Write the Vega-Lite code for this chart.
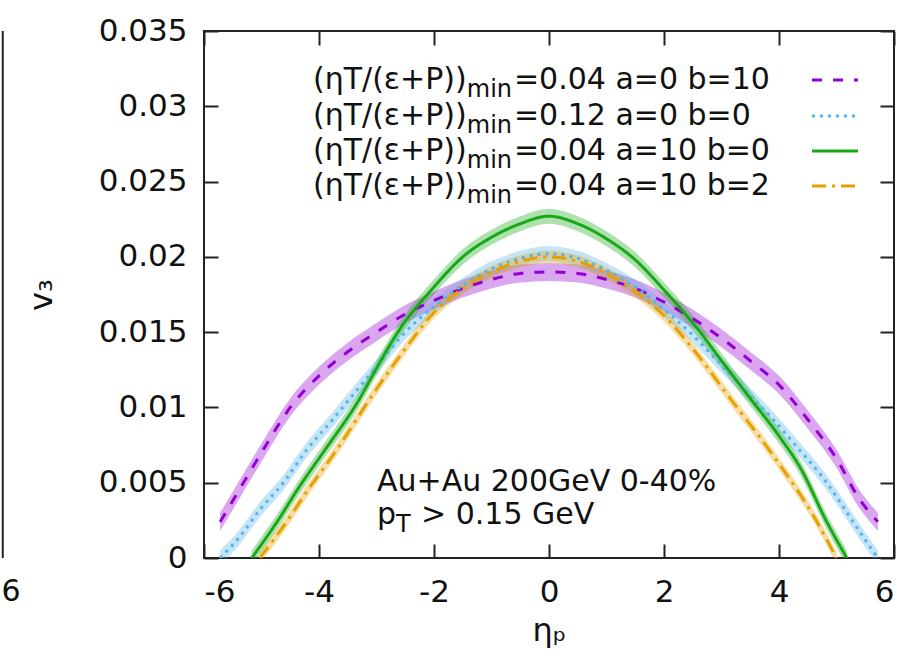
{
  "$schema": "https://vega.github.io/schema/vega-lite/v6.json",
  "width": 690,
  "height": 527,
  "autosize": {"type": "none"},
  "padding": {"left": 204, "top": 31, "right": 6, "bottom": 102},
  "background": "white",
  "config": {
    "view": {"stroke": "#222222", "strokeWidth": 2},
    "font": "DejaVu Sans",
    "axis": {
      "domain": false,
      "grid": false,
      "tickSize": -14,
      "tickWidth": 2,
      "tickColor": "#222222",
      "labelFont": "DejaVu Sans",
      "labelFontSize": 31,
      "labelColor": "#111111",
      "titleFont": "DejaVu Sans",
      "titleFontSize": 32,
      "titleFontWeight": "normal",
      "titleColor": "#111111"
    }
  },
  "datasets": {
    "curves": [
      {"s": "a", "eta": -5.72, "v": 0.0024},
      {"s": "a", "eta": -5.5, "v": 0.0038},
      {"s": "a", "eta": -5.0, "v": 0.0070},
      {"s": "a", "eta": -4.5, "v": 0.0100},
      {"s": "a", "eta": -4.0, "v": 0.0121},
      {"s": "a", "eta": -3.5, "v": 0.0137},
      {"s": "a", "eta": -3.0, "v": 0.0150},
      {"s": "a", "eta": -2.5, "v": 0.0162},
      {"s": "a", "eta": -2.0, "v": 0.0171},
      {"s": "a", "eta": -1.5, "v": 0.0179},
      {"s": "a", "eta": -1.0, "v": 0.0185},
      {"s": "a", "eta": -0.5, "v": 0.0189},
      {"s": "a", "eta": 0.0, "v": 0.0190},
      {"s": "a", "eta": 0.5, "v": 0.0189},
      {"s": "a", "eta": 1.0, "v": 0.0185},
      {"s": "a", "eta": 1.5, "v": 0.0179},
      {"s": "a", "eta": 2.0, "v": 0.0170},
      {"s": "a", "eta": 2.5, "v": 0.0159},
      {"s": "a", "eta": 3.0, "v": 0.0146},
      {"s": "a", "eta": 3.5, "v": 0.0131},
      {"s": "a", "eta": 4.0, "v": 0.0115},
      {"s": "a", "eta": 4.5, "v": 0.0092},
      {"s": "a", "eta": 5.0, "v": 0.0066},
      {"s": "a", "eta": 5.4, "v": 0.0039},
      {"s": "a", "eta": 5.72, "v": 0.0024},
      {"s": "b", "eta": -5.72, "v": 0.0},
      {"s": "b", "eta": -5.38, "v": 0.0014},
      {"s": "b", "eta": -5.03, "v": 0.0032},
      {"s": "b", "eta": -4.62, "v": 0.0050},
      {"s": "b", "eta": -4.21, "v": 0.0072},
      {"s": "b", "eta": -3.76, "v": 0.0092},
      {"s": "b", "eta": -3.46, "v": 0.0106},
      {"s": "b", "eta": -3.0, "v": 0.0127},
      {"s": "b", "eta": -2.5, "v": 0.0150},
      {"s": "b", "eta": -2.0, "v": 0.0167},
      {"s": "b", "eta": -1.5, "v": 0.0181},
      {"s": "b", "eta": -1.0, "v": 0.0192},
      {"s": "b", "eta": -0.5, "v": 0.0199},
      {"s": "b", "eta": 0.0, "v": 0.0202},
      {"s": "b", "eta": 0.5, "v": 0.0199},
      {"s": "b", "eta": 1.0, "v": 0.0191},
      {"s": "b", "eta": 1.5, "v": 0.0180},
      {"s": "b", "eta": 2.0, "v": 0.0165},
      {"s": "b", "eta": 2.5, "v": 0.0148},
      {"s": "b", "eta": 3.0, "v": 0.0128},
      {"s": "b", "eta": 3.55, "v": 0.0106},
      {"s": "b", "eta": 3.9, "v": 0.0092},
      {"s": "b", "eta": 4.24, "v": 0.0077},
      {"s": "b", "eta": 4.83, "v": 0.0050},
      {"s": "b", "eta": 5.29, "v": 0.0024},
      {"s": "b", "eta": 5.5, "v": 0.0012},
      {"s": "b", "eta": 5.72, "v": 0.0},
      {"s": "c", "eta": -5.17, "v": 0.0},
      {"s": "c", "eta": -4.73, "v": 0.0024},
      {"s": "c", "eta": -4.33, "v": 0.0048},
      {"s": "c", "eta": -3.93, "v": 0.0070},
      {"s": "c", "eta": -3.29, "v": 0.0106},
      {"s": "c", "eta": -3.0, "v": 0.0126},
      {"s": "c", "eta": -2.63, "v": 0.0150},
      {"s": "c", "eta": -2.0, "v": 0.0180},
      {"s": "c", "eta": -1.5, "v": 0.0200},
      {"s": "c", "eta": -1.0, "v": 0.0213},
      {"s": "c", "eta": -0.5, "v": 0.0222},
      {"s": "c", "eta": 0.0, "v": 0.0227},
      {"s": "c", "eta": 0.5, "v": 0.0222},
      {"s": "c", "eta": 1.0, "v": 0.0212},
      {"s": "c", "eta": 1.5, "v": 0.0198},
      {"s": "c", "eta": 2.0, "v": 0.0178},
      {"s": "c", "eta": 2.19, "v": 0.0170},
      {"s": "c", "eta": 2.63, "v": 0.0150},
      {"s": "c", "eta": 3.0, "v": 0.0131},
      {"s": "c", "eta": 3.5, "v": 0.0106},
      {"s": "c", "eta": 4.0, "v": 0.0081},
      {"s": "c", "eta": 4.37, "v": 0.0060},
      {"s": "c", "eta": 4.83, "v": 0.0024},
      {"s": "c", "eta": 5.18, "v": 0.0},
      {"s": "d", "eta": -5.03, "v": 0.0},
      {"s": "d", "eta": -4.62, "v": 0.0021},
      {"s": "d", "eta": -4.16, "v": 0.0047},
      {"s": "d", "eta": -3.69, "v": 0.0072},
      {"s": "d", "eta": -3.11, "v": 0.0106},
      {"s": "d", "eta": -2.5, "v": 0.0139},
      {"s": "d", "eta": -2.0, "v": 0.0163},
      {"s": "d", "eta": -1.5, "v": 0.0179},
      {"s": "d", "eta": -1.0, "v": 0.0190},
      {"s": "d", "eta": -0.5, "v": 0.0197},
      {"s": "d", "eta": 0.0, "v": 0.0200},
      {"s": "d", "eta": 0.5, "v": 0.0197},
      {"s": "d", "eta": 1.0, "v": 0.0189},
      {"s": "d", "eta": 1.5, "v": 0.0177},
      {"s": "d", "eta": 2.0, "v": 0.0161},
      {"s": "d", "eta": 2.5, "v": 0.0139},
      {"s": "d", "eta": 3.15, "v": 0.0106},
      {"s": "d", "eta": 3.9, "v": 0.0068},
      {"s": "d", "eta": 4.6, "v": 0.0028},
      {"s": "d", "eta": 5.0, "v": 0.0}
    ],
    "errors": [
      {"s": "a", "err": 0.0006},
      {"s": "b", "err": 0.0005},
      {"s": "c", "err": 0.0005},
      {"s": "d", "err": 0.0004}
    ],
    "keyLines": [
      {"s": "a", "eta": 4.574, "v": 0.03175},
      {"s": "a", "eta": 5.374, "v": 0.03175},
      {"s": "b", "eta": 4.574, "v": 0.02935},
      {"s": "b", "eta": 5.374, "v": 0.02935},
      {"s": "c", "eta": 4.574, "v": 0.02703},
      {"s": "c", "eta": 5.374, "v": 0.02703},
      {"s": "d", "eta": 4.574, "v": 0.02471},
      {"s": "d", "eta": 5.374, "v": 0.02471}
    ],
    "neighbour": [
      {"eta": -9.5, "lo": 0, "hi": 0.035}
    ],
    "texts": [
      {"t": "(ηT/(ε+P))", "kind": "main", "eta": -4.104, "v": 0.03175},
      {"t": "min", "kind": "sub", "eta": -1.43, "v": 0.03175},
      {"t": "=0.04 a=0 b=10", "kind": "main", "eta": -0.61, "v": 0.03175},
      {"t": "(ηT/(ε+P))", "kind": "main", "eta": -4.104, "v": 0.02935},
      {"t": "min", "kind": "sub", "eta": -1.43, "v": 0.02935},
      {"t": "=0.12 a=0 b=0", "kind": "main", "eta": -0.61, "v": 0.02935},
      {"t": "(ηT/(ε+P))", "kind": "main", "eta": -4.104, "v": 0.02703},
      {"t": "min", "kind": "sub", "eta": -1.43, "v": 0.02703},
      {"t": "=0.04 a=10 b=0", "kind": "main", "eta": -0.61, "v": 0.02703},
      {"t": "(ηT/(ε+P))", "kind": "main", "eta": -4.104, "v": 0.02471},
      {"t": "min", "kind": "sub", "eta": -1.43, "v": 0.02471},
      {"t": "=0.04 a=10 b=2", "kind": "main", "eta": -0.61, "v": 0.02471},
      {"t": "Au+Au 200GeV 0-40%", "kind": "main", "eta": -2.991, "v": 0.00505},
      {"t": "p", "kind": "main", "eta": -2.991, "v": 0.00286},
      {"t": "T", "kind": "sub", "eta": -2.661, "v": 0.00286},
      {"t": "> 0.15 GeV", "kind": "main", "eta": -2.226, "v": 0.00286},
      {"t": "6", "kind": "main", "eta": -9.52, "v": -0.00226}
    ]
  },
  "layer": [
    {
      "data": {"name": "curves"},
      "transform": [
        {"lookup": "s", "from": {"data": {"name": "errors"}, "key": "s", "fields": ["err"]}},
        {"calculate": "datum.v - datum.err", "as": "lo"},
        {"calculate": "datum.v + datum.err", "as": "hi"}
      ],
      "mark": {"type": "area", "opacity": 0.35, "clip": true, "interpolate": "monotone"},
      "encoding": {
        "x": {"field": "eta", "type": "quantitative", "scale": {"domain": [-6, 6], "nice": false, "zero": false},
              "axis": {"orient": "bottom", "values": [-6, -4, -2, 0, 2, 4, 6], "labelExpr": "toString(datum.value)", "labelPadding": 33, "title": "ηₚ", "titlePadding": 8}},
        "y": {"field": "lo", "type": "quantitative", "scale": {"domain": [0, 0.035], "nice": false, "zero": false},
              "axis": {"orient": "left", "values": [0, 0.005, 0.01, 0.015, 0.02, 0.025, 0.03, 0.035], "format": "~g", "labelPadding": 31, "title": "v₃", "titlePadding": 40}},
        "y2": {"field": "hi"},
        "color": {"field": "s", "type": "nominal", "scale": {"domain": ["a", "b", "c", "d"], "range": ["#9400D3", "#56B4E9", "#18A818", "#E6A000"]}, "legend": null},
        "detail": {"field": "s"}
      }
    },
    {
      "data": {"name": "curves"},
      "mark": {"type": "line", "strokeWidth": 3, "clip": true, "interpolate": "monotone"},
      "encoding": {
        "x": {"field": "eta", "type": "quantitative", "scale": {"domain": [-6, 6], "nice": false, "zero": false},
              "axis": {"orient": "top", "values": [-6, -4, -2, 0, 2, 4, 6], "labels": false, "title": null}},
        "y": {"field": "v", "type": "quantitative", "scale": {"domain": [0, 0.035], "nice": false, "zero": false},
              "axis": {"orient": "right", "values": [0, 0.005, 0.01, 0.015, 0.02, 0.025, 0.03, 0.035], "labels": false, "title": null}},
        "color": {"field": "s", "type": "nominal", "legend": null},
        "strokeDash": {"field": "s", "type": "nominal", "scale": {"domain": ["a", "b", "c", "d"], "range": [[10, 11], [3, 5], [1, 0], [14, 6, 3, 6]]}, "legend": null}
      }
    },
    {
      "data": {"name": "keyLines"},
      "mark": {"type": "line", "strokeWidth": 3},
      "encoding": {
        "x": {"field": "eta", "type": "quantitative", "axis": null},
        "y": {"field": "v", "type": "quantitative", "axis": null},
        "color": {"field": "s", "type": "nominal", "legend": null},
        "strokeDash": {"field": "s", "type": "nominal", "legend": null}
      }
    },
    {
      "data": {"name": "neighbour"},
      "mark": {"type": "rule", "color": "#222222", "strokeWidth": 2},
      "encoding": {
        "x": {"field": "eta", "type": "quantitative", "axis": null},
        "y": {"field": "lo", "type": "quantitative", "axis": null},
        "y2": {"field": "hi"}
      }
    },
    {
      "data": {"name": "texts"},
      "transform": [{"filter": "datum.kind == 'main'"}],
      "mark": {"type": "text", "align": "left", "baseline": "middle", "font": "DejaVu Sans", "fontSize": 30, "color": "#111111"},
      "encoding": {
        "x": {"field": "eta", "type": "quantitative", "axis": null},
        "y": {"field": "v", "type": "quantitative", "axis": null},
        "text": {"field": "t"}
      }
    },
    {
      "data": {"name": "texts"},
      "transform": [{"filter": "datum.kind == 'sub'"}],
      "mark": {"type": "text", "align": "left", "baseline": "middle", "font": "DejaVu Sans", "fontSize": 24, "dy": 10, "color": "#111111"},
      "encoding": {
        "x": {"field": "eta", "type": "quantitative", "axis": null},
        "y": {"field": "v", "type": "quantitative", "axis": null},
        "text": {"field": "t"}
      }
    }
  ],
  "resolve": {"axis": {"x": "independent", "y": "independent"}}
}
